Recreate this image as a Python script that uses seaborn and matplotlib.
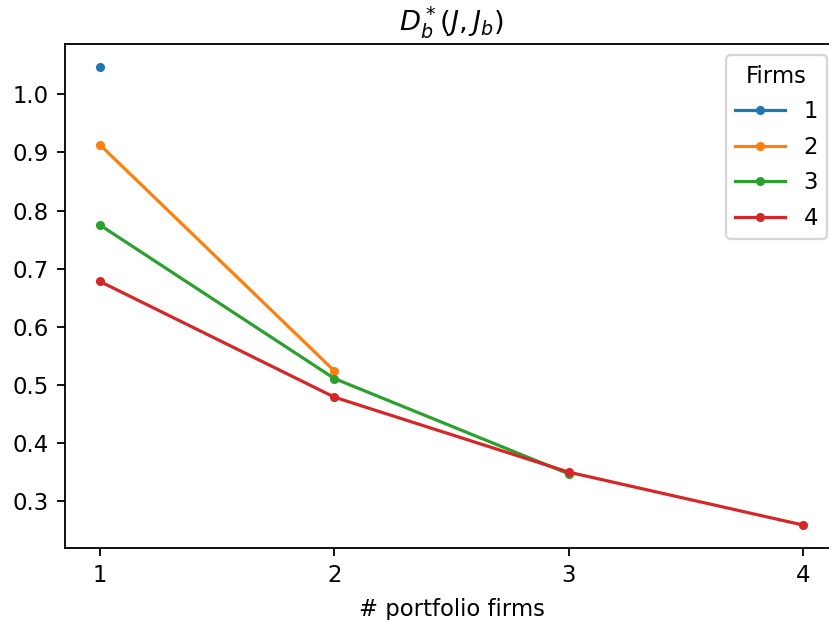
import matplotlib
matplotlib.use("Agg")
import matplotlib.pyplot as plt
import seaborn as sns
import pandas as pd

# Optimal debt level per firm count, by number of portfolio firms
portfolio_firms = [1, 2, 3, 4]
firm_labels = ["1", "2", "3", "4"]
firms_1 = [1.047]
firms_2 = [0.913, 0.524]
firms_3 = [0.775, 0.511, 0.347]
firms_4 = [0.678, 0.479, 0.350, 0.259]

series = [firms_1, firms_2, firms_3, firms_4]
rows = []
for label, vals in zip(firm_labels, series):
    for x, v in zip(portfolio_firms, vals):
        rows.append({"portfolio": x, "value": v, "Firms": label})
df = pd.DataFrame(rows)

DPI = 164
fig = plt.figure(figsize=(830 / DPI, 620 / DPI), dpi=DPI)
ax = fig.add_axes([0.0781, 0.1161, 0.9322, 0.8129])

sns.lineplot(
    data=df, x="portfolio", y="value", hue="Firms",
    hue_order=firm_labels, palette="tab10",
    marker="o", markersize=4, markeredgewidth=0, linewidth=1.4, ax=ax,
)

ax.set_xticks(portfolio_firms)
ax.set_xlabel("# portfolio firms", labelpad=5)
ax.set_ylabel("")
ax.set_title(r"$D_b^*(J, J_b)$")
ax.legend(title="Firms", loc="upper right", labelspacing=0.55,
          handlelength=2.2)

fig.savefig("out.png", dpi=DPI)
